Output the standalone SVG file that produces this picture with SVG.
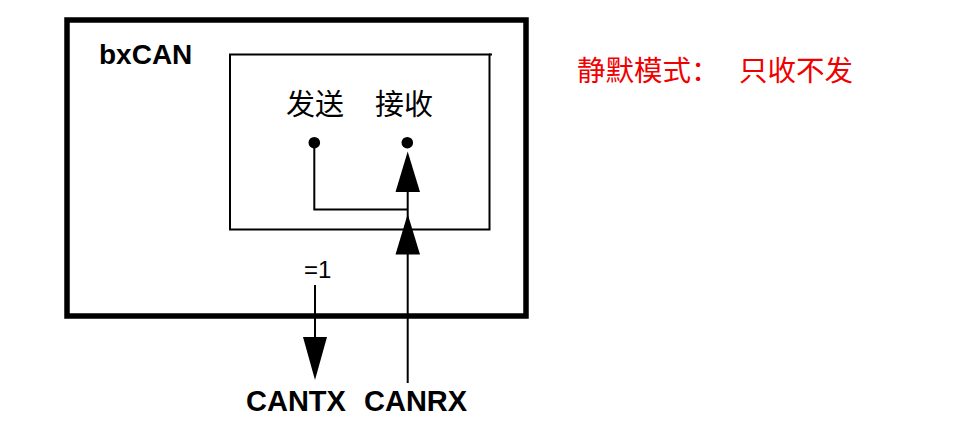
<svg xmlns="http://www.w3.org/2000/svg" width="954" height="428" viewBox="0 0 954 428">
<style>
.bold{font-family:"Liberation Sans",Arial,sans-serif;font-weight:bold;font-size:29px;fill:#000}
.reg{font-family:"Liberation Sans",Arial,sans-serif;font-size:24px;fill:#000}
.cjk{font-family:"Noto Sans CJK SC",sans-serif;font-size:29px;fill:#000}
.red{font-family:"Noto Sans CJK SC",sans-serif;font-size:28.5px;fill:#f00000}
.ln{fill:none;stroke:#000;stroke-width:2}
.head{fill:#000;stroke:none}
</style>
<rect width="954" height="428" fill="#fff"/>
<g id="bxcan">
<rect x="67" y="20" width="459" height="296" fill="none" stroke="#000" stroke-width="5.5"/>
<text class="bold" x="99" y="64" style="font-size:28px">bxCAN</text>
</g>
<g id="core">
<rect x="230" y="54.5" width="259.5" height="175" fill="none" stroke="#000" stroke-width="2"/>
<line x1="489" y1="54.5" x2="492" y2="54.5" stroke="#000" stroke-width="2"/>
</g>
<g id="tx-node">
<text class="cjk" x="286" y="115">发送</text>
<circle cx="314.3" cy="142.7" r="5.8" fill="#000"/>
</g>
<g id="rx-node">
<text class="cjk" x="375" y="115">接收</text>
<circle cx="407.3" cy="142.7" r="5.8" fill="#000"/>
</g>
<g id="eq1">
<text class="reg" x="304" y="278">=1</text>
</g>
<g id="cantx">
<text class="bold" x="246" y="411">CANTX</text>
</g>
<g id="canrx">
<text class="bold" x="364" y="411">CANRX</text>
</g>
<g id="mode-note">
<text class="red" x="577" y="81">静默模式：<tspan x="739">只收不发</tspan></text>
</g>
<g id="connectors">
<polyline class="ln" points="314.3,142.7 314.3,209.5 407.7,209.5"/>
<line class="ln" x1="407.7" y1="190" x2="407.7" y2="383"/>
<polygon class="head" points="407.7,151.5 395.5,192 420,192"/>
<polygon class="head" points="407.7,214 395.5,254.5 420,254.5"/>
<line class="ln" x1="315" y1="285" x2="315" y2="340"/>
<polygon class="head" points="303,337 327,337 315,380"/>
</g>
</svg>
